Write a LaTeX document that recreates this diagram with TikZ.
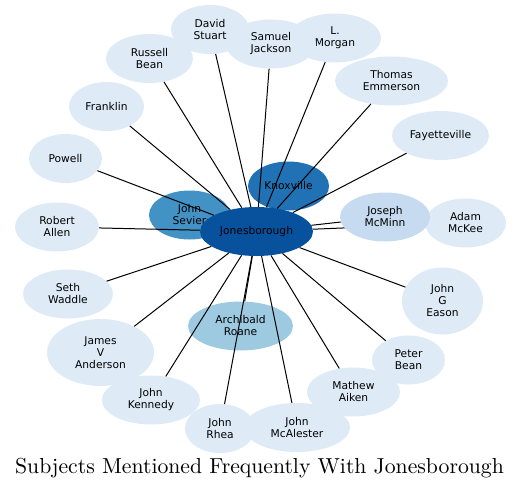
\documentclass[tikz,border=0pt]{standalone}
\usepackage{fontspec}
\newfontfamily\dejavu{DejaVu Sans}
\newfontfamily\titlefont{lmroman10-regular.otf}
\usetikzlibrary{shapes.geometric}

\definecolor{bluea}{HTML}{DEEBF7}
\definecolor{blueb}{HTML}{C6DBEF}
\definecolor{bluec}{HTML}{9ECAE1}
\definecolor{blued}{HTML}{4292C6}
\definecolor{bluee}{HTML}{2171B5}
\definecolor{bluef}{HTML}{08519C}

\pgfdeclarelayer{back}
\pgfdeclarelayer{front}
\pgfsetlayers{back,main,front}

\tikzset{
	subj/.style={ellipse, fill=bluea, inner sep=0pt, minimum width=#1, minimum height=49pt,
		align=center, font=\dejavu\fontsize{10.7}{12}\selectfont},
	subj/.default=90pt,
	tall/.style={minimum height=67pt},
	link/.style={line width=1pt}
}

\begin{document}
\begin{tikzpicture}[x=1pt,y=-1pt]
	\useasboundingbox (0,0) rectangle (521,489);
	\begin{pgfonlayer}{back}
	\draw node (knox)[subj=81pt, fill=bluee] at (288.5,186) {Knoxville};
	\draw node (sev)[subj=81pt, fill=blued] at (189.5,215) {John\\Sevier};
	\draw node (roane)[subj=105pt, fill=bluec] at (240.5,326) {Archibald\\Roane};
	\draw node (mckee)[subj=81pt] at (465.5,223) {Adam\\McKee};
	\draw node (fay)[subj=97pt] at (440.5,135.5) {Fayetteville};
	\draw node (emm)[subj=113pt] at (391.5,81) {Thomas\\Emmerson};
	\draw node (morgan)[subj=92pt] at (335,38) {L.\\Morgan};
	\draw node (jackson)[subj=90pt] at (271,44) {Samuel\\Jackson};
	\draw node (stuart)[subj=78pt] at (210,29.5) {David\\Stuart};
	\draw node (rbean)[subj=87pt] at (149.5,58.5) {Russell\\Bean};
	\draw node (frank)[subj=75pt] at (106.5,106.5) {Franklin};
	\draw node (powell)[subj=73pt] at (65.5,158.5) {Powell};
	\draw node (allen)[subj=84pt] at (57,227) {Robert\\Allen};
	\draw node (waddle)[subj=90pt] at (68,294) {Seth\\Waddle};
	\draw node (anderson)[subj=107pt, tall] at (100.5,352.5) {James\\V\\Anderson};
	\draw node (kennedy)[subj=98pt] at (151,400) {John\\Kennedy};
	\draw node (rhea)[subj=70pt] at (220,428.5) {John\\Rhea};
	\draw node (mcal)[subj=106pt] at (297,427.5) {John\\McAlester};
	\draw node (aiken)[subj=93pt] at (353.5,392) {Mathew\\Aiken};
	\draw node (pbean)[subj=73pt] at (408.5,360) {Peter\\Bean};
	\draw node (eason)[subj=81pt, tall] at (442.5,301) {John\\G\\Eason};
	\end{pgfonlayer}
	\begin{pgfonlayer}{front}
	\draw node (mcminn)[subj=90pt, fill=blueb] at (385,217) {Joseph\\McMinn};
	\draw node (jon)[subj=113pt, fill=bluef] at (256.5,231.5) {Jonesborough};
	\end{pgfonlayer}
	% links from the hub
	\draw[link] (jon)--(knox);
	\draw[link] (jon)--(sev);
	\draw[link] (jon)--(roane);
	\draw[link] (jon)--(mcminn);
	\draw[link] (jon)--(mckee);
	\draw[link] (jon)--(fay);
	\draw[link] (jon)--(emm);
	\draw[link] (jon)--(morgan);
	\draw[link] (jon)--(jackson);
	\draw[link] (jon)--(stuart);
	\draw[link] (jon)--(rbean);
	\draw[link] (jon)--(frank);
	\draw[link] (jon)--(powell);
	\draw[link] (jon)--(allen);
	\draw[link] (jon)--(waddle);
	\draw[link] (jon)--(anderson);
	\draw[link] (jon)--(kennedy);
	\draw[link] (jon)--(rhea);
	\draw[link] (jon)--(mcal);
	\draw[link] (jon)--(aiken);
	\draw[link] (jon)--(pbean);
	\draw[link] (jon)--(eason);
	\draw node (title)[anchor=base, font=\titlefont\fontsize{21.7}{26}\selectfont] at (259.5,473.3)
		{Subjects Mentioned Frequently With Jonesborough};
\end{tikzpicture}
\end{document}
